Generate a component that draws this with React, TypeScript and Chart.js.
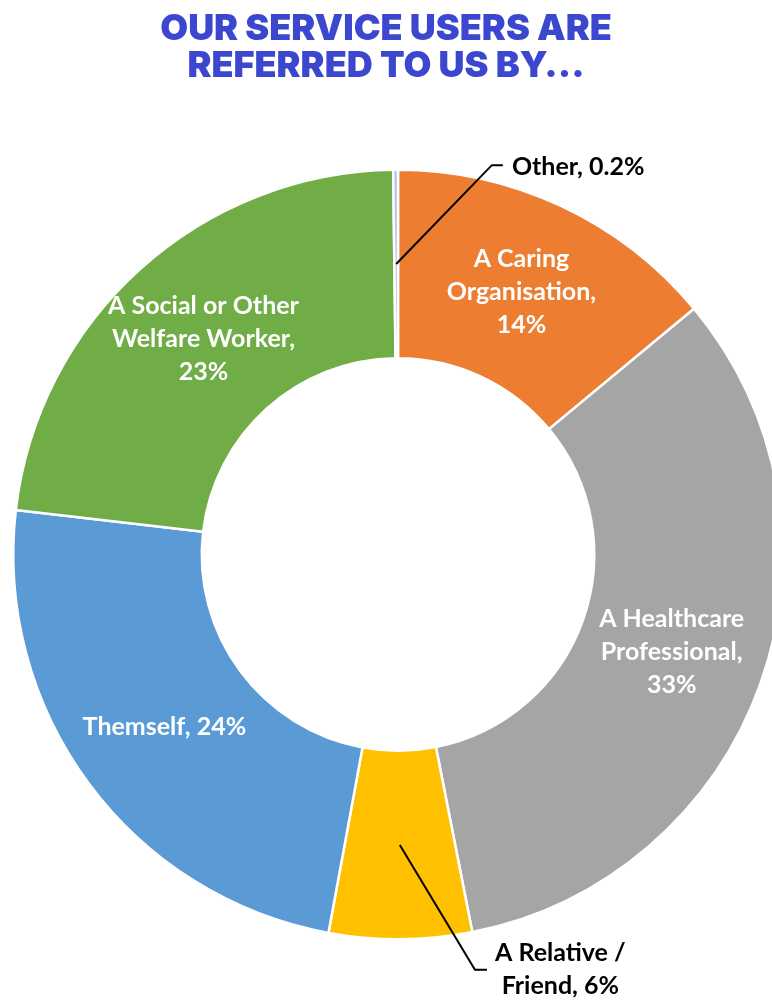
import React, { useEffect, useRef } from 'react';
import { Chart, ArcElement, DoughnutController } from 'chart.js';

Chart.register(ArcElement, DoughnutController);

const titleLines = ['OUR SERVICE USERS ARE', 'REFERRED TO US BY...'];
const categories = [
  'A Caring Organisation',
  'A Healthcare Professional',
  'A Relative / Friend',
  'Themself',
  'A Social or Other Welfare Worker',
  'Other',
];
const values = [14, 33, 6, 24, 23, 0.2];
const nameLines = [
  ['A Caring', 'Organisation,'],
  ['A Healthcare', 'Professional,'],
  ['A Relative /', 'Friend,'],
  ['Themself,'],
  ['A Social or Other', 'Welfare Worker,'],
  ['Other,'],
];
const valueInline = [false, false, true, true, false, true];
const colors = ['#ED7D31', '#A5A5A5', '#FFC000', '#5B9BD5', '#70AD47', '#A9C4EA'];

const LABEL_FONT = 'bold 25px Lato, "Noto Sans", sans-serif';
const TITLE_FONT = '900 36px Inter, "DejaVu Sans", sans-serif';

// outside callouts: elbow relative to centre in outer-radius units
const callouts: Record<number, { ex: number; ey: number; hx: number; gap: number; align: 'left' | 'block' }> = {
  5: { ex: 0.244, ey: -1.012, hx: 11, gap: 9, align: 'left' },
  2: { ex: 0.2, ey: 1.079, hx: 12, gap: 8, align: 'block' },
};

function buildLabel(i: number): string[] {
  const lines = nameLines[i].slice();
  const v = `${values[i]}%`;
  if (valueInline[i]) lines[lines.length - 1] = lines[lines.length - 1] + ' ' + v;
  else lines.push(v);
  return lines;
}

const titlePlugin = {
  id: 'customTitle',
  afterDraw(chart: any) {
    const ctx = chart.ctx;
    ctx.save();
    ctx.font = TITLE_FONT;
    ctx.fillStyle = '#3C47CF';
    ctx.textAlign = 'center';
    ctx.textBaseline = 'alphabetic';
    titleLines.forEach((t, i) => ctx.fillText(t, 386, 40 + i * 37));
    ctx.restore();
  },
};

const labelPlugin = {
  id: 'sliceLabels',
  afterDatasetsDraw(chart: any) {
    const ctx = chart.ctx;
    const meta = chart.getDatasetMeta(0);
    const lh = 33;
    ctx.save();
    ctx.font = LABEL_FONT;
    ctx.textBaseline = 'middle';
    meta.data.forEach((arc: any, i: number) => {
      const { x, y, startAngle, endAngle, innerRadius, outerRadius } = arc.getProps(
        ['x', 'y', 'startAngle', 'endAngle', 'innerRadius', 'outerRadius'],
        true
      );
      const mid = (startAngle + endAngle) / 2;
      const r = (innerRadius + outerRadius) / 2;
      const px = x + Math.cos(mid) * r;
      const py = y + Math.sin(mid) * r;
      const lines = buildLabel(i);
      const co = callouts[i];
      if (co) {
        const exx = x + co.ex * outerRadius;
        const eyy = y + co.ey * outerRadius;
        ctx.strokeStyle = '#000';
        ctx.lineWidth = 2;
        ctx.beginPath();
        ctx.moveTo(px, py);
        ctx.lineTo(exx, eyy);
        ctx.lineTo(exx + co.hx, eyy);
        ctx.stroke();
        ctx.fillStyle = '#000';
        const left = exx + co.hx + co.gap;
        const top = eyy - ((lines.length - 1) * lh) / 2;
        if (co.align === 'left') {
          ctx.textAlign = 'left';
          lines.forEach((l, k) => ctx.fillText(l, left, top + 2 + k * lh));
        } else {
          const w = Math.max(...lines.map((l) => ctx.measureText(l).width));
          ctx.textAlign = 'center';
          lines.forEach((l, k) => ctx.fillText(l, left + w / 2, top + k * lh));
        }
      } else {
        ctx.fillStyle = '#FFFFFF';
        ctx.textAlign = 'center';
        const top = py - ((lines.length - 1) * lh) / 2;
        lines.forEach((l, k) => ctx.fillText(l, px, top + k * lh));
      }
    });
    ctx.restore();
  },
};

export default function App() {
  const ref = useRef<HTMLCanvasElement | null>(null);
  useEffect(() => {
    if (!ref.current) return;
    const chart = new Chart(ref.current, {
      type: 'doughnut',
      data: {
        labels: categories,
        datasets: [
          {
            data: values,
            backgroundColor: colors,
            borderColor: '#FFFFFF',
            borderWidth: 2.5,
          },
        ],
      },
      options: {
        responsive: false,
        maintainAspectRatio: false,
        animation: false,
        cutout: '51%',
        layout: { padding: { left: 12, right: 16, top: 168.5, bottom: 59.5 } },
        plugins: {
          legend: { display: false },
          tooltip: { enabled: false },
          title: { display: false },
        },
        events: [],
      },
      plugins: [labelPlugin, titlePlugin],
    });
    return () => chart.destroy();
  }, []);
  return (
    <div
      style={{
        position: 'fixed',
        left: 0,
        top: 0,
        width: 772,
        height: 1000,
        overflow: 'hidden',
        background: '#FFFFFF',
      }}
    >
      <canvas ref={ref} width={800} height={1000} style={{ width: 800, height: 1000, display: 'block' }} />
    </div>
  );
}
